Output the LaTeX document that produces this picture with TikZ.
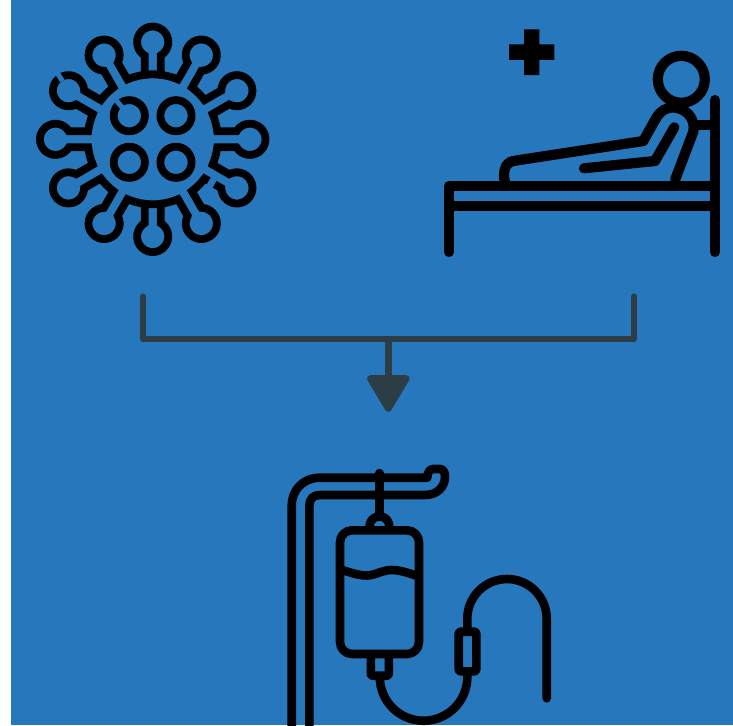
\documentclass[tikz,border=0pt]{standalone}
\usepackage{xcolor}
\usetikzlibrary{arrows.meta,positioning,calc}
\definecolor{bg}{HTML}{2777BC}
\definecolor{lk}{HTML}{2C3D46}
\tikzset{
  icon/.style={draw=black, line width=7.8pt},
  bedline/.style={icon, line width=10.2pt, line cap=round, line join=round},
  ivline/.style={icon, line width=8.6pt, line join=round},
  cut/.style={draw=bg, line width=5pt},
  link/.style={draw=lk, line width=6.4pt, line join=round, line cap=round},
}
\begin{document}
\begin{tikzpicture}[x=1pt,y=-1pt]
  \useasboundingbox (0,0) rectangle (733,725);
  \clip (0,0) rectangle (733,725);
  \fill[white] (0,0) rectangle (733,725);
  \fill[bg] (10.5,0) rectangle (733,725);

  % virus
  \begin{scope}[shift={(152.7,139.3)}]
    \foreach \ang in {0,30,...,330} {
      \draw[icon, rotate=\ang]
        (-15:65) arc[start angle=-15, end angle=-7.1, radius=65]
        -- (83.8,-8)
        arc[start angle=210.85, delta angle=298.3, radius=15.6]
        -- (7.1:65)
        arc[start angle=7.1, end angle=15, radius=65];
    }
    \draw[icon] (82.9:65) arc[start angle=82.9, end angle=97.1, radius=65];
    \draw[icon] (262.9:65) arc[start angle=262.9, end angle=277.1, radius=65];
  \end{scope}
  \foreach \cx/\cy in {129.3/115.7, 176/115.7, 129.3/162.3, 176/162.3}
    \draw[icon] (\cx,\cy) circle[radius=15.6];
  \draw[cut] (122.1,107.3) -- (115.6,99.7);
  \draw[cut] (62.4,80.9) -- (57,72.6);
  \draw[cut, line width=9.4pt] (208.9,180.8) -- (214.6,184.1);

  % bed
  \fill[black] (524,29.3) -| (539.3,44.3) -| (554.3,60) -| (539.3,75) -| (524,60) -| (509,44.3) -| (524,29.3) -- cycle;
  \draw[bedline] (681.3,79.3) circle[radius=23.5];
  \draw[bedline] (449,252) -- (449,186) -- (715,186);
  \draw[bedline] (449,206) -- (715,206);
  \draw[bedline] (715,100) -- (715,252);
  \draw[bedline, line cap=butt] (695,125) -- (715,125);
  \draw[bedline] (505,181.7) .. controls (503,176) and (503,161.5) .. (515,160.7)
    -- (643.3,141) -- (655,120) .. controls (661,109) and (668,107.5) .. (673,107.5)
    .. controls (685,107.5) and (696,118) .. (693.3,131.7) -- (675,180);
  \draw[bedline] (584,168.3) -- (655,161) -- (674.3,127.3);

  % links
  \coordinate (virusEnd) at (143,296.5);
  \coordinate (bedEnd) at (634,296.5);
  \coordinate (joint) at (388.3,339);
  \coordinate (tipEnd) at (388.3,412);
  \draw[link] (virusEnd) |- (joint) -| (bedEnd);
  \draw[link, line cap=butt, -{Triangle[length=40pt,width=46pt,round]}] (joint) -- (tipEnd);

  % drip
  \draw[ivline] (309.3,730) -- (309.3,506) .. controls (309.3,499) and (313,495) .. (320,495)
    -- (425,495) .. controls (437,495) and (445,487) .. (445,476.7)
    .. controls (445,472) and (443,469) .. (440,469) -- (433.3,469)
    .. controls (430,469) and (427.3,472) .. (427.3,477.7) -- (320,477.7)
    .. controls (303,477.7) and (291.7,490) .. (291.7,506) -- (291.7,730);
  \draw[ivline, line cap=round] (379.3,473) -- (379.3,517);
  \draw[ivline] (369.7,528) arc[start angle=170, end angle=370, radius=9.9];
  \draw[ivline, rounded corners=12pt] (340,530.3) rectangle (419,654);
  \draw[ivline] (342,570) .. controls (355,574) and (360,575.5) .. (367,575.5)
    .. controls (375,575.5) and (382,570) .. (392,570)
    .. controls (400,570) and (408,573) .. (416,575.5);
  \draw[ivline, rounded corners=2pt] (370.8,654) -- (370.8,675.7) -- (388.8,675.7) -- (388.8,654);
  \draw[ivline] (379.8,675.7) -- (379.8,677) arc[start angle=180, end angle=0, radius=43.75] -- (467.3,671);
  \draw[ivline, rounded corners=2pt] (458.7,631.7) rectangle (476.3,671.3);
  \draw[ivline, line cap=round] (467.3,631.7) -- (467.3,618.7)
    arc[start angle=180, end angle=360, radius=39.7] -- (546.7,698.3);
\end{tikzpicture}
\end{document}
